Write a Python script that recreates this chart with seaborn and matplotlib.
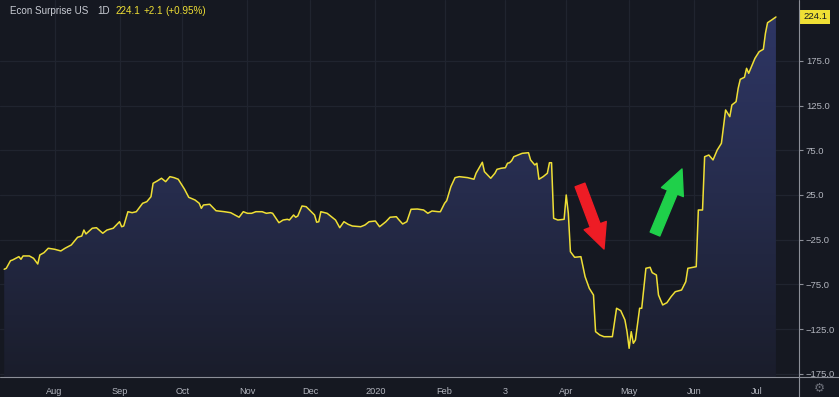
import numpy as np
import pandas as pd
import matplotlib
matplotlib.use("Agg")
import matplotlib.pyplot as plt
import matplotlib.dates as mdates
from matplotlib.lines import Line2D
from matplotlib.ticker import FuncFormatter
from matplotlib.colors import LinearSegmentedColormap
import seaborn as sns

# ---------------- data ----------------
dates = [
    "2019-07-08", "2019-07-09", "2019-07-11", "2019-07-12", "2019-07-15", "2019-07-16",
    "2019-07-17", "2019-07-20", "2019-07-22", "2019-07-24", "2019-07-25", "2019-07-27",
    "2019-07-29", "2019-08-01", "2019-08-04", "2019-08-06", "2019-08-09", "2019-08-12",
    "2019-08-14", "2019-08-15", "2019-08-16", "2019-08-19", "2019-08-21", "2019-08-24",
    "2019-08-26", "2019-08-29", "2019-09-01", "2019-09-02", "2019-09-03", "2019-09-05",
    "2019-09-07", "2019-09-09", "2019-09-12", "2019-09-14", "2019-09-16", "2019-09-17",
    "2019-09-19", "2019-09-21", "2019-09-23", "2019-09-25", "2019-09-27", "2019-09-29",
    "2019-10-02", "2019-10-04", "2019-10-07", "2019-10-09", "2019-10-10", "2019-10-11",
    "2019-10-14", "2019-10-17", "2019-10-21", "2019-10-24", "2019-10-26", "2019-10-28",
    "2019-10-30", "2019-11-01", "2019-11-03", "2019-11-05", "2019-11-08", "2019-11-10",
    "2019-11-12", "2019-11-13", "2019-11-16", "2019-11-18", "2019-11-20", "2019-11-21",
    "2019-11-23", "2019-11-24", "2019-11-25", "2019-11-27", "2019-11-29", "2019-12-03",
    "2019-12-04", "2019-12-05", "2019-12-06", "2019-12-09", "2019-12-11", "2019-12-13",
    "2019-12-15", "2019-12-17", "2019-12-19", "2019-12-21", "2019-12-25", "2019-12-27",
    "2019-12-29", "2020-01-01", "2020-01-03", "2020-01-06", "2020-01-08", "2020-01-11",
    "2020-01-12", "2020-01-14", "2020-01-16", "2020-01-18", "2020-01-21", "2020-01-24",
    "2020-01-26", "2020-01-28", "2020-01-31", "2020-02-01", "2020-02-03", "2020-02-04",
    "2020-02-06", "2020-02-08", "2020-02-10", "2020-02-14", "2020-02-17", "2020-02-18",
    "2020-02-21", "2020-02-22", "2020-02-25", "2020-02-27", "2020-02-28", "2020-03-01",
    "2020-03-03", "2020-03-04", "2020-03-05", "2020-03-06", "2020-03-07", "2020-03-09",
    "2020-03-11", "2020-03-14", "2020-03-15", "2020-03-17", "2020-03-18", "2020-03-19",
    "2020-03-21", "2020-03-23", "2020-03-24", "2020-03-25", "2020-03-26", "2020-03-28",
    "2020-03-31", "2020-04-01", "2020-04-02", "2020-04-03", "2020-04-05", "2020-04-08",
    "2020-04-10", "2020-04-12", "2020-04-14", "2020-04-15", "2020-04-17", "2020-04-19",
    "2020-04-23", "2020-04-25", "2020-04-27", "2020-04-29", "2020-04-30", "2020-05-01",
    "2020-05-02", "2020-05-03", "2020-05-04", "2020-05-06", "2020-05-07", "2020-05-09",
    "2020-05-11", "2020-05-12", "2020-05-14", "2020-05-15", "2020-05-17", "2020-05-19",
    "2020-05-21", "2020-05-23", "2020-05-26", "2020-05-28", "2020-05-29", "2020-06-02",
    "2020-06-03", "2020-06-05", "2020-06-06", "2020-06-08", "2020-06-10", "2020-06-12",
    "2020-06-14", "2020-06-16", "2020-06-18", "2020-06-19", "2020-06-21", "2020-06-22",
    "2020-06-23", "2020-06-25", "2020-06-26", "2020-06-27", "2020-06-30", "2020-07-02",
    "2020-07-04", "2020-07-05", "2020-07-06", "2020-07-08", "2020-07-10",
]
values = [
    -58.1, -57.0, -48.5, -47.7, -44.0, -46.9,
    -43.2, -43.2, -45.8, -52.2, -42.1, -39.5,
    -34.6, -35.7, -37.6, -34.6, -30.9, -22.3,
    -20.9, -14.2, -18.6, -12.2, -11.6, -17.8,
    -14.2, -12.2, -4.9, -10.5, -9.7, 6.3,
    5.2, 6.3, 15.7, 17.5, 23.1, 38.1,
    40.7, 43.7, 39.9, 45.5, 44.4, 42.6,
    31.4, 22.4, 19.4, 15.7, 10.1, 13.8,
    14.6, 7.4, 6.3, 5.2, 2.6, 0.1,
    6.3, 4.5, 4.5, 6.3, 6.3, 4.5,
    5.2, 4.5, -6.0, -3.0, -2.2, -3.0,
    2.6, 0.1, 1.5, 12.7, 11.9, 2.6,
    -5.5, -4.9, 6.3, 4.5, 0.7, -3.0,
    -11.6, -4.9, -7.8, -9.7, -10.5, -8.6,
    -4.9, -4.1, -10.5, -4.9, 0.1, 0.7,
    -2.2, -7.4, -4.9, 9.0, 9.3, 8.2,
    4.5, 7.1, 6.3, 6.3, 15.7, 18.6,
    34.3, 44.4, 45.5, 44.4, 42.6, 49.3,
    61.6, 51.1, 43.7, 49.3, 53.7, 54.9,
    55.5, 60.5, 61.1, 63.4, 67.8, 69.7,
    71.6, 72.3, 64.2, 58.6, 60.5, 42.6,
    45.5, 49.3, 61.1, 61.1, -1.1, -3.0,
    -2.2, 25.0, 4.5, -38.4, -44.7, -44.0,
    -66.4, -79.4, -86.9, -127.9, -131.6, -133.5,
    -133.5, -101.7, -104.4, -114.8, -127.9, -146.5,
    -127.9, -140.9, -137.2, -101.7, -101.7, -57.0,
    -55.9, -61.9, -64.5, -86.9, -98.0, -95.5,
    -88.8, -83.2, -81.3, -72.0, -57.0, -55.2,
    8.2, 8.2, 67.8, 69.7, 64.2, 75.3,
    82.8, 120.1, 112.6, 125.7, 129.4, 144.4,
    154.4, 156.7, 166.7, 161.1, 177.9, 185.3,
    188.0, 205.9, 217.7, 220.8, 224.1,
]
tick_dates = ["2019-08-01", "2019-09-01", "2019-10-01", "2019-11-01", "2019-12-01",
              "2020-01-01", "2020-02-03", "2020-03-03", "2020-04-01", "2020-05-01",
              "2020-06-01", "2020-07-01"]
tick_labels = ["Aug", "Sep", "Oct", "Nov", "Dec", "2020", "Feb", "3", "Apr", "May",
               "Jun", "Jul"]
y_ticks = [175, 125, 75, 25, -25, -75, -125, -175]
title_name = "Econ Surprise US"
title_interval = "1D"
last_value = 224.1
change_abs = 2.1
change_pct = 0.95

df = pd.DataFrame({"date": pd.to_datetime(dates), "value": values})

# ---------------- style ----------------
BG = "#151821"
GRID = "#20242f"
LINE = "#efdf35"
TXT = "#b2b5be"
AXLINE = "#8c8f98"

sns.set_style("dark", {"axes.facecolor": BG, "figure.facecolor": BG})
plt.rcParams["font.family"] = ["Liberation Sans", "DejaVu Sans"]

W, H = 839, 397
fig = plt.figure(figsize=(W / 100, H / 100), dpi=100)
fig.patch.set_facecolor(BG)
ax = fig.add_axes([0, (H - 377) / H, 799 / W, 377 / H])
ax.set_facecolor(BG)

xmin = pd.Timestamp("2019-07-06")
xmax = pd.Timestamp("2020-07-21")
ymin, ymax = -178.6, 243.1

# gradient fill under the line
xnum = mdates.date2num(df["date"])
poly = ax.fill_between(df["date"], df["value"], ymin, facecolor="none", edgecolor="none")
grad = np.linspace(0, 1, 256).reshape(-1, 1)
cmap = LinearSegmentedColormap.from_list("g", ["#2e3665", "#262c4c", "#1a1d2b"])
img = ax.imshow(grad, cmap=cmap, aspect="auto",
                extent=[xnum.min(), xnum.max(), ymin, ymax * 0.95],
                origin="upper", zorder=1)
img.set_clip_path(poly.get_paths()[0], transform=ax.transData)

sns.lineplot(data=df, x="date", y="value", ax=ax, color=LINE, linewidth=1.1, zorder=3)

ax.set_xlim(xmin, xmax)
ax.set_ylim(ymin, ymax)
ax.set_xlabel("")
ax.set_ylabel("")

ax.set_xticks(pd.to_datetime(tick_dates))
ax.set_xticklabels(tick_labels)
ax.set_yticks(y_ticks)
ax.yaxis.tick_right()
ax.yaxis.set_major_formatter(FuncFormatter(lambda v, p: f"{v:.1f}".replace("-", "\u2212")))
ax.tick_params(axis="x", colors=AXLINE, labelcolor=TXT, labelsize=6.6, length=3,
               width=0.8, pad=4, direction="out")
ax.tick_params(axis="y", colors=AXLINE, labelcolor=TXT, labelsize=6.8, length=3,
               width=0.8, pad=2, direction="out")
ax.grid(True, color=GRID, linewidth=0.9)
for s in ax.spines.values():
    s.set_visible(False)

# axis frame lines
fig.add_artist(Line2D([0, 1], [(H - 377) / H] * 2, color=AXLINE, lw=0.8, transform=fig.transFigure))
fig.add_artist(Line2D([799 / W] * 2, [0, 1], color=AXLINE, lw=0.8, transform=fig.transFigure))

# last value label
ax.annotate(f"{last_value:.1f}", xy=(1, last_value), xycoords=("axes fraction", "data"),
            xytext=(3, 0), textcoords="offset points", ha="left", va="center",
            fontsize=6.8, color="#131722", annotation_clip=False,
            bbox=dict(boxstyle="square,pad=0.3", fc=LINE, ec="none"))

# legend/title line
ty = 1 - 11 / H
fs = 7.1
fig.text(10 / W, ty, title_name, color="#c9ccd4", fontsize=fs, va="center", ha="left")
fig.text(97 / W, ty, title_interval, color="#c9ccd4", fontsize=fs, va="center", ha="left")
fig.text(115 / W, ty, f"{last_value:.1f}", color=LINE, fontsize=fs, va="center", ha="left")
fig.text(144 / W, ty, f"+{change_abs:.1f}", color=LINE, fontsize=fs, va="center", ha="left")
fig.text(165 / W, ty, f"(+{change_pct:.2f}%)", color=LINE, fontsize=fs, va="center", ha="left")

# gear icon
fig.text(819 / W, 1 - 388 / H, "\u2699", color="#6b6e78", fontsize=9, va="center",
         ha="center", family=["DejaVu Sans"])

# annotation arrows
style = "simple,head_width=1.7,head_length=1.8,tail_width=0.75"
ax.annotate("", xy=(604, H - 249), xytext=(580, H - 185), xycoords="figure pixels",
            textcoords="figure pixels",
            arrowprops=dict(arrowstyle=style, mutation_scale=10, color="#ee1c25",
                            shrinkA=0, shrinkB=0),
            annotation_clip=False)
ax.annotate("", xy=(682, H - 169), xytext=(655, H - 234), xycoords="figure pixels",
            textcoords="figure pixels",
            arrowprops=dict(arrowstyle=style, mutation_scale=10, color="#1fd04a",
                            shrinkA=0, shrinkB=0),
            annotation_clip=False)

fig.savefig("out.png", dpi=100, facecolor=BG)
